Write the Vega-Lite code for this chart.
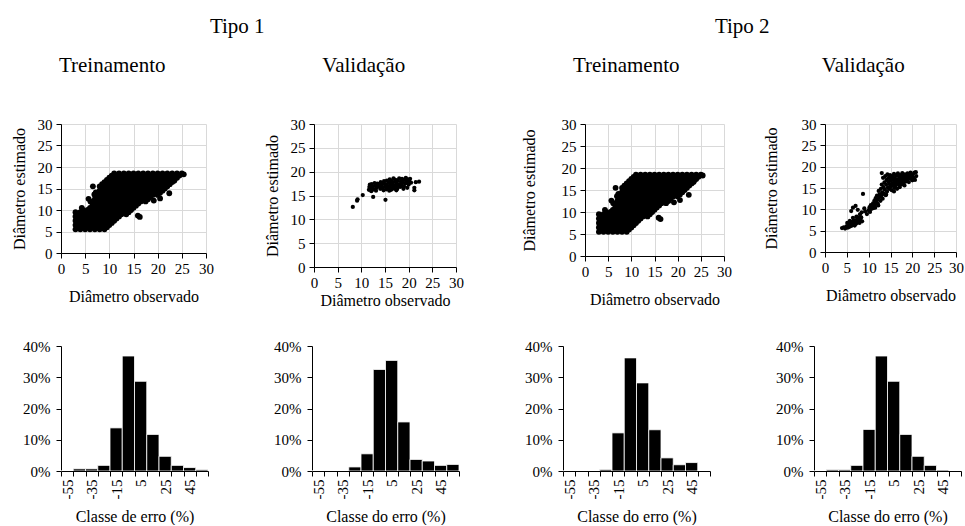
{
"$schema": "https://vega.github.io/schema/vega-lite/v6.json",
"background": "white",
"padding": {"left": 10, "top": 16, "right": 0, "bottom": 0},
"config": {
  "font": "Liberation Serif",
  "view": {"stroke": null},
  "axis": {"labelFont": "Liberation Serif", "titleFont": "Liberation Serif", "labelFontSize": 15, "titleFontSize": 16, "titleFontWeight": "normal", "labelColor": "black", "titleColor": "black", "domainColor": "black", "tickColor": "black", "tickSize": 5, "gridColor": "#d9d9d9", "labelFlush": false, "labelOverlap": false},
  "title": {"font": "Liberation Serif", "fontSize": 21, "fontWeight": "normal", "color": "black", "anchor": "middle"},
  "circle": {"color": "black", "opacity": 1, "size": 18}
},
"datasets": {
  "trein": [
    {"x":3,"y":5.5},{"x":3,"y":6.5},{"x":3,"y":7.5},{"x":3,"y":8.5},{"x":3,"y":9.5},
    {"x":3.5,"y":6},{"x":3.5,"y":7},{"x":3.5,"y":8},{"x":3.5,"y":9},
    {"x":4,"y":5.5},{"x":4,"y":6.5},{"x":4,"y":7.5},{"x":4,"y":8.5},{"x":4,"y":9.5},
    {"x":4.5,"y":6},{"x":4.5,"y":7},{"x":4.5,"y":8},{"x":4.5,"y":9},{"x":4.5,"y":10},
    {"x":5,"y":5.5},{"x":5,"y":6.5},{"x":5,"y":7.5},{"x":5,"y":8.5},{"x":5,"y":9.5},
    {"x":5.5,"y":6},{"x":5.5,"y":7},{"x":5.5,"y":8},{"x":5.5,"y":9},{"x":5.5,"y":10},
    {"x":6,"y":5.5},{"x":6,"y":6.5},{"x":6,"y":7.5},{"x":6,"y":8.5},{"x":6,"y":9.5},{"x":6,"y":10.5},
    {"x":6.5,"y":6},{"x":6.5,"y":7},{"x":6.5,"y":8},{"x":6.5,"y":9},{"x":6.5,"y":10},{"x":6.5,"y":11},
    {"x":7,"y":5.5},{"x":7,"y":6.5},{"x":7,"y":7.5},{"x":7,"y":8.5},{"x":7,"y":9.5},{"x":7,"y":10.5},{"x":7,"y":11.5},{"x":7,"y":12.5},
    {"x":7.5,"y":6},{"x":7.5,"y":7},{"x":7.5,"y":8},{"x":7.5,"y":9},{"x":7.5,"y":10},{"x":7.5,"y":11},{"x":7.5,"y":12},{"x":7.5,"y":13},{"x":7.5,"y":14},
    {"x":8,"y":5.5},{"x":8,"y":6.5},{"x":8,"y":7.5},{"x":8,"y":8.5},{"x":8,"y":9.5},{"x":8,"y":10.5},{"x":8,"y":11.5},{"x":8,"y":12.5},{"x":8,"y":13.5},{"x":8,"y":14.5},{"x":8,"y":15.5},
    {"x":8.5,"y":6},{"x":8.5,"y":7},{"x":8.5,"y":8},{"x":8.5,"y":9},{"x":8.5,"y":10},{"x":8.5,"y":11},{"x":8.5,"y":12},{"x":8.5,"y":13},{"x":8.5,"y":14},{"x":8.5,"y":15},{"x":8.5,"y":16},
    {"x":9,"y":5.5},{"x":9,"y":6.5},{"x":9,"y":7.5},{"x":9,"y":8.5},{"x":9,"y":9.5},{"x":9,"y":10.5},{"x":9,"y":11.5},{"x":9,"y":12.5},{"x":9,"y":13.5},{"x":9,"y":14.5},{"x":9,"y":15.5},{"x":9,"y":16.5},
    {"x":9.5,"y":6},{"x":9.5,"y":7},{"x":9.5,"y":8},{"x":9.5,"y":9},{"x":9.5,"y":10},{"x":9.5,"y":11},{"x":9.5,"y":12},{"x":9.5,"y":13},{"x":9.5,"y":14},{"x":9.5,"y":15},{"x":9.5,"y":16},{"x":9.5,"y":17},
    {"x":10,"y":6.5},{"x":10,"y":7.5},{"x":10,"y":8.5},{"x":10,"y":9.5},{"x":10,"y":10.5},{"x":10,"y":11.5},{"x":10,"y":12.5},{"x":10,"y":13.5},{"x":10,"y":14.5},{"x":10,"y":15.5},{"x":10,"y":16.5},{"x":10,"y":17.5},
    {"x":10.5,"y":7},{"x":10.5,"y":8},{"x":10.5,"y":9},{"x":10.5,"y":10},{"x":10.5,"y":11},{"x":10.5,"y":12},{"x":10.5,"y":13},{"x":10.5,"y":14},{"x":10.5,"y":15},{"x":10.5,"y":16},{"x":10.5,"y":17},{"x":10.5,"y":18},
    {"x":11,"y":7.5},{"x":11,"y":8.5},{"x":11,"y":9.5},{"x":11,"y":10.5},{"x":11,"y":11.5},{"x":11,"y":12.5},{"x":11,"y":13.5},{"x":11,"y":14.5},{"x":11,"y":15.5},{"x":11,"y":16.5},{"x":11,"y":17.5},{"x":11,"y":18.5},
    {"x":11.5,"y":8},{"x":11.5,"y":9},{"x":11.5,"y":10},{"x":11.5,"y":11},{"x":11.5,"y":12},{"x":11.5,"y":13},{"x":11.5,"y":14},{"x":11.5,"y":15},{"x":11.5,"y":16},{"x":11.5,"y":17},{"x":11.5,"y":18},
    {"x":12,"y":8.5},{"x":12,"y":9.5},{"x":12,"y":10.5},{"x":12,"y":11.5},{"x":12,"y":12.5},{"x":12,"y":13.5},{"x":12,"y":14.5},{"x":12,"y":15.5},{"x":12,"y":16.5},{"x":12,"y":17.5},{"x":12,"y":18.5},
    {"x":12.5,"y":9},{"x":12.5,"y":10},{"x":12.5,"y":11},{"x":12.5,"y":12},{"x":12.5,"y":13},{"x":12.5,"y":14},{"x":12.5,"y":15},{"x":12.5,"y":16},{"x":12.5,"y":17},{"x":12.5,"y":18},
    {"x":13,"y":9.5},{"x":13,"y":10.5},{"x":13,"y":11.5},{"x":13,"y":12.5},{"x":13,"y":13.5},{"x":13,"y":14.5},{"x":13,"y":15.5},{"x":13,"y":16.5},{"x":13,"y":17.5},{"x":13,"y":18.5},
    {"x":13.5,"y":9},{"x":13.5,"y":10},{"x":13.5,"y":11},{"x":13.5,"y":12},{"x":13.5,"y":13},{"x":13.5,"y":14},{"x":13.5,"y":15},{"x":13.5,"y":16},{"x":13.5,"y":17},{"x":13.5,"y":18},
    {"x":14,"y":9.5},{"x":14,"y":10.5},{"x":14,"y":11.5},{"x":14,"y":12.5},{"x":14,"y":13.5},{"x":14,"y":14.5},{"x":14,"y":15.5},{"x":14,"y":16.5},{"x":14,"y":17.5},{"x":14,"y":18.5},
    {"x":14.5,"y":10},{"x":14.5,"y":11},{"x":14.5,"y":12},{"x":14.5,"y":13},{"x":14.5,"y":14},{"x":14.5,"y":15},{"x":14.5,"y":16},{"x":14.5,"y":17},{"x":14.5,"y":18},
    {"x":15,"y":10.5},{"x":15,"y":11.5},{"x":15,"y":12.5},{"x":15,"y":13.5},{"x":15,"y":14.5},{"x":15,"y":15.5},{"x":15,"y":16.5},{"x":15,"y":17.5},{"x":15,"y":18.5},
    {"x":15.5,"y":11},{"x":15.5,"y":12},{"x":15.5,"y":13},{"x":15.5,"y":14},{"x":15.5,"y":15},{"x":15.5,"y":16},{"x":15.5,"y":17},{"x":15.5,"y":18},
    {"x":16,"y":11.5},{"x":16,"y":12.5},{"x":16,"y":13.5},{"x":16,"y":14.5},{"x":16,"y":15.5},{"x":16,"y":16.5},{"x":16,"y":17.5},{"x":16,"y":18.5},
    {"x":16.5,"y":12},{"x":16.5,"y":13},{"x":16.5,"y":14},{"x":16.5,"y":15},{"x":16.5,"y":16},{"x":16.5,"y":17},{"x":16.5,"y":18},
    {"x":17,"y":12.5},{"x":17,"y":13.5},{"x":17,"y":14.5},{"x":17,"y":15.5},{"x":17,"y":16.5},{"x":17,"y":17.5},{"x":17,"y":18.5},
    {"x":17.5,"y":12},{"x":17.5,"y":13},{"x":17.5,"y":14},{"x":17.5,"y":15},{"x":17.5,"y":16},{"x":17.5,"y":17},{"x":17.5,"y":18},
    {"x":18,"y":12.5},{"x":18,"y":13.5},{"x":18,"y":14.5},{"x":18,"y":15.5},{"x":18,"y":16.5},{"x":18,"y":17.5},{"x":18,"y":18.5},
    {"x":18.5,"y":13},{"x":18.5,"y":14},{"x":18.5,"y":15},{"x":18.5,"y":16},{"x":18.5,"y":17},{"x":18.5,"y":18},
    {"x":19,"y":13.5},{"x":19,"y":14.5},{"x":19,"y":15.5},{"x":19,"y":16.5},{"x":19,"y":17.5},{"x":19,"y":18.5},
    {"x":19.5,"y":14},{"x":19.5,"y":15},{"x":19.5,"y":16},{"x":19.5,"y":17},{"x":19.5,"y":18},
    {"x":20,"y":13.5},{"x":20,"y":14.5},{"x":20,"y":15.5},{"x":20,"y":16.5},{"x":20,"y":17.5},{"x":20,"y":18.5},
    {"x":20.5,"y":14},{"x":20.5,"y":15},{"x":20.5,"y":16},{"x":20.5,"y":17},{"x":20.5,"y":18},
    {"x":21,"y":14.5},{"x":21,"y":15.5},{"x":21,"y":16.5},{"x":21,"y":17.5},{"x":21,"y":18.5},
    {"x":21.5,"y":15},{"x":21.5,"y":16},{"x":21.5,"y":17},{"x":21.5,"y":18},
    {"x":22,"y":15.5},{"x":22,"y":16.5},{"x":22,"y":17.5},{"x":22,"y":18.5},
    {"x":22.5,"y":16},{"x":22.5,"y":17},{"x":22.5,"y":18},
    {"x":23,"y":16.5},{"x":23,"y":17.5},{"x":23,"y":18.5},
    {"x":23.5,"y":17},{"x":23.5,"y":18},
    {"x":24,"y":17.5},{"x":24,"y":18.5},
    {"x":24.5,"y":18},{"x":25,"y":18.5},{"x":25.4,"y":18.3},
    {"x":5.7,"y":12.6},{"x":6.6,"y":15.5},{"x":7.2,"y":14.1},{"x":6.9,"y":13.6},{"x":15.9,"y":8.7},{"x":16.3,"y":8.4},{"x":20.5,"y":12.7},{"x":23.4,"y":16.8},{"x":22.4,"y":13.9},{"x":19.2,"y":12.2},{"x":6.1,"y":12.0},{"x":4.3,"y":10.5}
  ],
  "val1": [
    {"x":8.2,"y":12.6},{"x":9.1,"y":13.9},{"x":9.2,"y":14.2},{"x":10.3,"y":15.1},{"x":12.5,"y":14.7},{"x":15.1,"y":14.1},{"x":21.2,"y":16.1},{"x":21.2,"y":16.6},{"x":22.2,"y":17.9},{"x":21.5,"y":17.8},
    {"x":11.6,"y":16.2},{"x":11.7,"y":16.8},{"x":11.8,"y":17.3},{"x":12.0,"y":16.5},{"x":12.2,"y":17.4},{"x":12.4,"y":16.9},{"x":12.6,"y":16.3},{"x":12.8,"y":17.6},{"x":13.0,"y":17.0},{"x":13.2,"y":16.6},
    {"x":13.4,"y":17.5},{"x":13.6,"y":16.9},{"x":13.8,"y":17.2},{"x":14.0,"y":16.4},{"x":14.1,"y":17.8},{"x":14.3,"y":17.0},{"x":14.5,"y":16.6},{"x":14.6,"y":17.5},{"x":14.8,"y":18.0},{"x":15.0,"y":16.8},
    {"x":15.1,"y":17.4},{"x":15.3,"y":16.3},{"x":15.4,"y":18.1},{"x":15.5,"y":17.0},{"x":15.7,"y":16.6},{"x":15.8,"y":17.7},{"x":16.0,"y":18.4},{"x":16.0,"y":16.9},{"x":16.2,"y":17.3},{"x":16.3,"y":16.2},
    {"x":16.4,"y":18.0},{"x":16.5,"y":17.6},{"x":16.7,"y":16.8},{"x":16.8,"y":18.6},{"x":16.9,"y":17.2},{"x":17.0,"y":16.5},{"x":17.1,"y":17.9},{"x":17.2,"y":18.3},{"x":17.3,"y":16.9},{"x":17.5,"y":17.5},
    {"x":17.6,"y":16.4},{"x":17.7,"y":18.1},{"x":17.8,"y":17.0},{"x":18.0,"y":18.6},{"x":18.1,"y":17.4},{"x":18.2,"y":16.8},{"x":18.4,"y":18.0},{"x":18.5,"y":17.2},{"x":18.6,"y":18.5},{"x":18.8,"y":17.7},
    {"x":19.0,"y":16.9},{"x":19.1,"y":18.3},{"x":19.3,"y":17.5},{"x":19.4,"y":18.7},{"x":19.6,"y":17.9},{"x":19.8,"y":18.4},{"x":20.0,"y":17.3},{"x":20.1,"y":18.0},{"x":20.3,"y":18.5},{"x":20.5,"y":17.7},
    {"x":14.7,"y":16.1},{"x":13.1,"y":16.0},{"x":17.4,"y":16.1},{"x":18.9,"y":16.4},{"x":15.9,"y":16.0},{"x":16.6,"y":16.4},{"x":12.1,"y":15.9},{"x":19.7,"y":16.6}
  ],
  "val2": [
    {"x":3.9,"y":5.6},{"x":4.3,"y":5.8},{"x":4.6,"y":5.5},{"x":4.9,"y":6.0},{"x":5.2,"y":5.7},{"x":5.4,"y":6.3},{"x":5.6,"y":5.9},{"x":5.8,"y":6.6},{"x":6.0,"y":6.1},{"x":6.1,"y":7.0},
    {"x":6.3,"y":6.4},{"x":6.5,"y":6.9},{"x":6.6,"y":7.4},{"x":6.8,"y":6.2},{"x":7.0,"y":7.1},{"x":7.1,"y":6.6},{"x":7.3,"y":7.6},{"x":7.4,"y":6.9},{"x":7.6,"y":7.3},{"x":7.8,"y":8.0},
    {"x":7.9,"y":6.8},{"x":8.1,"y":7.5},{"x":8.3,"y":8.1},{"x":8.5,"y":7.2},{"x":5.7,"y":7.3},{"x":6.4,"y":8.0},{"x":5.1,"y":6.8},{"x":7.2,"y":8.3},{"x":8.0,"y":8.8},{"x":8.4,"y":9.3},
    {"x":6.0,"y":9.6},{"x":6.4,"y":10.4},{"x":7.0,"y":10.8},{"x":7.5,"y":9.9},{"x":8.7,"y":13.6},{"x":9.2,"y":9.5},{"x":9.6,"y":8.9},{"x":9.0,"y":10.2},
    {"x":10.0,"y":9.8},{"x":10.2,"y":10.5},{"x":10.3,"y":9.4},{"x":10.5,"y":11.0},{"x":10.6,"y":10.1},{"x":10.8,"y":10.7},{"x":11.0,"y":11.4},{"x":11.1,"y":10.3},{"x":11.3,"y":12.0},{"x":11.4,"y":11.0},
    {"x":11.6,"y":12.6},{"x":11.7,"y":11.6},{"x":11.9,"y":13.2},{"x":12.0,"y":12.2},{"x":12.1,"y":11.3},{"x":12.3,"y":14.3},{"x":12.4,"y":12.8},{"x":12.5,"y":13.5},{"x":12.7,"y":12.0},{"x":12.8,"y":14.8},
    {"x":12.9,"y":13.2},{"x":13.0,"y":15.8},{"x":13.0,"y":18.5},{"x":13.1,"y":14.0},{"x":13.2,"y":12.5},{"x":13.3,"y":17.4},{"x":13.4,"y":15.2},{"x":13.5,"y":13.6},{"x":13.6,"y":16.3},{"x":13.7,"y":14.6},
    {"x":13.8,"y":17.8},{"x":13.9,"y":13.3},{"x":14.0,"y":15.8},{"x":14.1,"y":16.9},{"x":14.2,"y":14.2},{"x":14.3,"y":18.2},{"x":14.4,"y":15.1},{"x":14.5,"y":16.5},{"x":14.6,"y":17.4},{"x":14.7,"y":14.8},
    {"x":14.8,"y":15.9},{"x":14.9,"y":18.0},{"x":15.0,"y":16.7},{"x":15.1,"y":15.3},{"x":15.2,"y":17.2},{"x":15.3,"y":14.5},{"x":15.4,"y":16.1},{"x":15.5,"y":17.8},{"x":15.6,"y":15.6},{"x":15.7,"y":16.8},
    {"x":15.8,"y":18.3},{"x":15.9,"y":15.0},{"x":16.0,"y":17.3},{"x":16.1,"y":16.2},{"x":16.2,"y":15.5},{"x":16.3,"y":17.9},{"x":16.4,"y":16.6},{"x":16.5,"y":14.8},{"x":16.6,"y":17.0},{"x":16.7,"y":18.4},
    {"x":16.8,"y":15.9},{"x":16.9,"y":16.8},{"x":17.0,"y":17.6},{"x":17.1,"y":15.2},{"x":17.2,"y":16.3},{"x":17.3,"y":18.0},{"x":17.4,"y":17.1},{"x":17.5,"y":15.8},{"x":17.6,"y":16.7},{"x":17.7,"y":18.5},
    {"x":17.8,"y":17.4},{"x":17.9,"y":16.1},{"x":18.0,"y":17.9},{"x":18.1,"y":16.9},{"x":18.2,"y":15.6},{"x":18.3,"y":18.2},{"x":18.4,"y":17.3},{"x":18.5,"y":16.5},{"x":18.6,"y":17.8},{"x":18.8,"y":16.9},
    {"x":18.9,"y":18.4},{"x":19.0,"y":17.5},{"x":19.2,"y":16.4},{"x":19.3,"y":18.0},{"x":19.5,"y":17.2},{"x":19.6,"y":18.6},{"x":19.8,"y":17.7},{"x":20.0,"y":16.8},{"x":20.1,"y":18.2},{"x":20.3,"y":17.4},
    {"x":20.5,"y":18.6},{"x":20.8,"y":18.7},{"x":20.6,"y":16.9},{"x":20.9,"y":17.8},{"x":14.0,"y":13.5},{"x":12.2,"y":10.9},{"x":11.5,"y":10.4},{"x":15.8,"y":14.2}
  ],
  "h1": [
    {"classe":"-55","pct":0},{"classe":"-45","pct":0.007},{"classe":"-35","pct":0.007},{"classe":"-25","pct":0.018},{"classe":"-15","pct":0.138},{"classe":"-5","pct":0.368},
    {"classe":"5","pct":0.287},{"classe":"15","pct":0.117},{"classe":"25","pct":0.047},{"classe":"35","pct":0.018},{"classe":"45","pct":0.011},{"classe":"55","pct":0.004}
  ],
  "h2": [
    {"classe":"-55","pct":0},{"classe":"-45","pct":0},{"classe":"-35","pct":0},{"classe":"-25","pct":0.013},{"classe":"-15","pct":0.055},{"classe":"-5","pct":0.325},
    {"classe":"5","pct":0.354},{"classe":"15","pct":0.157},{"classe":"25","pct":0.037},{"classe":"35","pct":0.032},{"classe":"45","pct":0.018},{"classe":"55","pct":0.021}
  ],
  "h3": [
    {"classe":"-55","pct":0},{"classe":"-45","pct":0},{"classe":"-35","pct":0},{"classe":"-25","pct":0.005},{"classe":"-15","pct":0.122},{"classe":"-5","pct":0.362},
    {"classe":"5","pct":0.282},{"classe":"15","pct":0.132},{"classe":"25","pct":0.042},{"classe":"35","pct":0.02},{"classe":"45","pct":0.027},{"classe":"55","pct":0}
  ],
  "h4": [
    {"classe":"-55","pct":0},{"classe":"-45","pct":0.004},{"classe":"-35","pct":0.004},{"classe":"-25","pct":0.018},{"classe":"-15","pct":0.133},{"classe":"-5","pct":0.368},
    {"classe":"5","pct":0.287},{"classe":"15","pct":0.117},{"classe":"25","pct":0.047},{"classe":"35","pct":0.018},{"classe":"45","pct":0.003},{"classe":"55","pct":0}
  ]
},
"spacing": 31,
"vconcat": [
  {
    "spacing": 57,
    "hconcat": [
      {
        "title": {"text": "Tipo 1", "offset": 18},
        "spacing": 49,
        "hconcat": [
          {
            "title": {"text": "Treinamento", "offset": 41, "frame": "bounds"},
            "data": {"name": "trein"}, "width": 145, "height": 129,
            "mark": {"type": "circle", "size": 34},
            "encoding": {
              "x": {"field": "x", "type": "quantitative", "scale": {"domain": [0, 30], "nice": false}, "axis": {"title": "Diâmetro observado", "values": [0,5,10,15,20,25,30], "titlePadding": 12, "labelPadding": 3}},
              "y": {"field": "y", "type": "quantitative", "scale": {"domain": [0, 30], "nice": false}, "axis": {"title": "Diâmetro estimado", "values": [0,5,10,15,20,25,30], "titlePadding": 10, "labelPadding": 4}}
            }
          },
          {
            "title": {"text": "Validação", "offset": 41, "frame": "bounds"},
            "data": {"name": "val1"}, "width": 142, "height": 143,
            "mark": {"type": "circle"},
            "encoding": {
              "x": {"field": "x", "type": "quantitative", "scale": {"domain": [0, 30], "nice": false}, "axis": {"title": "Diâmetro observado", "values": [0,5,10,15,20,25,30], "titlePadding": 2, "labelPadding": 3}},
              "y": {"field": "y", "type": "quantitative", "scale": {"domain": [0, 30], "nice": false}, "axis": {"title": "Diâmetro estimado", "values": [0,5,10,15,20,25,30], "titlePadding": 10, "labelPadding": 4}}
            }
          }
        ]
      },
      {
        "title": {"text": "Tipo 2", "offset": 18},
        "spacing": 30,
        "hconcat": [
          {
            "title": {"text": "Treinamento", "offset": 41, "frame": "bounds"},
            "data": {"name": "trein"}, "width": 139, "height": 132,
            "mark": {"type": "circle", "size": 34},
            "encoding": {
              "x": {"field": "x", "type": "quantitative", "scale": {"domain": [0, 30], "nice": false}, "axis": {"title": "Diâmetro observado", "values": [0,5,10,15,20,25,30], "titlePadding": 12, "labelPadding": 3}},
              "y": {"field": "y", "type": "quantitative", "scale": {"domain": [0, 30], "nice": false}, "axis": {"title": "Diâmetro estimado", "values": [0,5,10,15,20,25,30], "titlePadding": 24, "labelPadding": 4}}
            }
          },
          {
            "title": {"text": "Validação", "offset": 41, "frame": "bounds"},
            "data": {"name": "val2"}, "width": 131, "height": 128,
            "mark": {"type": "circle"},
            "encoding": {
              "x": {"field": "x", "type": "quantitative", "scale": {"domain": [0, 30], "nice": false}, "axis": {"title": "Diâmetro observado", "values": [0,5,10,15,20,25,30], "titlePadding": 12, "labelPadding": 3}},
              "y": {"field": "y", "type": "quantitative", "scale": {"domain": [0, 30], "nice": false}, "axis": {"title": "Diâmetro estimado", "values": [0,5,10,15,20,25,30], "titlePadding": 22, "labelPadding": 4}}
            }
          }
        ]
      }
    ]
  },
  {
    "spacing": 63,
    "hconcat": [
      {
        "data": {"name": "h1"}, "width": 147, "height": 125,
        "mark": {"type": "bar", "color": "black", "stroke": "white", "strokeWidth": 0.8},
        "encoding": {
          "x": {"field": "classe", "type": "ordinal", "sort": null, "scale": {"domain": ["-55","-45","-35","-25","-15","-5","5","15","25","35","45","55"], "paddingInner": 0, "paddingOuter": 0}, "axis": {"title": "Classe de erro (%)", "labelAngle": -90, "tickBand": "extent", "zindex": 1, "labelExpr": "indexof(['-55','-35','-15','5','25','45'], datum.value) >= 0 ? datum.label : ''", "titlePadding": 10, "labelPadding": 3}},
          "y": {"field": "pct", "type": "quantitative", "scale": {"domain": [0, 0.4], "nice": false}, "axis": {"title": null, "format": ".0%", "values": [0,0.1,0.2,0.3,0.4], "grid": false, "labelPadding": 6}}
        }
      },
      {
        "data": {"name": "h2"}, "width": 147, "height": 125,
        "mark": {"type": "bar", "color": "black", "stroke": "white", "strokeWidth": 0.8},
        "encoding": {
          "x": {"field": "classe", "type": "ordinal", "sort": null, "scale": {"domain": ["-55","-45","-35","-25","-15","-5","5","15","25","35","45","55"], "paddingInner": 0, "paddingOuter": 0}, "axis": {"title": "Classe do erro (%)", "labelAngle": -90, "tickBand": "extent", "zindex": 1, "labelExpr": "indexof(['-55','-35','-15','5','25','45'], datum.value) >= 0 ? datum.label : ''", "titlePadding": 10, "labelPadding": 3}},
          "y": {"field": "pct", "type": "quantitative", "scale": {"domain": [0, 0.4], "nice": false}, "axis": {"title": null, "format": ".0%", "values": [0,0.1,0.2,0.3,0.4], "grid": false, "labelPadding": 6}}
        }
      },
      {
        "data": {"name": "h3"}, "width": 147, "height": 125,
        "mark": {"type": "bar", "color": "black", "stroke": "white", "strokeWidth": 0.8},
        "encoding": {
          "x": {"field": "classe", "type": "ordinal", "sort": null, "scale": {"domain": ["-55","-45","-35","-25","-15","-5","5","15","25","35","45","55"], "paddingInner": 0, "paddingOuter": 0}, "axis": {"title": "Classe do erro (%)", "labelAngle": -90, "tickBand": "extent", "zindex": 1, "labelExpr": "indexof(['-55','-35','-15','5','25','45'], datum.value) >= 0 ? datum.label : ''", "titlePadding": 10, "labelPadding": 3}},
          "y": {"field": "pct", "type": "quantitative", "scale": {"domain": [0, 0.4], "nice": false}, "axis": {"title": null, "format": ".0%", "values": [0,0.1,0.2,0.3,0.4], "grid": false, "labelPadding": 6}}
        }
      },
      {
        "data": {"name": "h4"}, "width": 147, "height": 125,
        "mark": {"type": "bar", "color": "black", "stroke": "white", "strokeWidth": 0.8},
        "encoding": {
          "x": {"field": "classe", "type": "ordinal", "sort": null, "scale": {"domain": ["-55","-45","-35","-25","-15","-5","5","15","25","35","45","55"], "paddingInner": 0, "paddingOuter": 0}, "axis": {"title": "Classe do erro (%)", "labelAngle": -90, "tickBand": "extent", "zindex": 1, "labelExpr": "indexof(['-55','-35','-15','5','25','45'], datum.value) >= 0 ? datum.label : ''", "titlePadding": 10, "labelPadding": 3}},
          "y": {"field": "pct", "type": "quantitative", "scale": {"domain": [0, 0.4], "nice": false}, "axis": {"title": null, "format": ".0%", "values": [0,0.1,0.2,0.3,0.4], "grid": false, "labelPadding": 6}}
        }
      }
    ]
  }
]
}
